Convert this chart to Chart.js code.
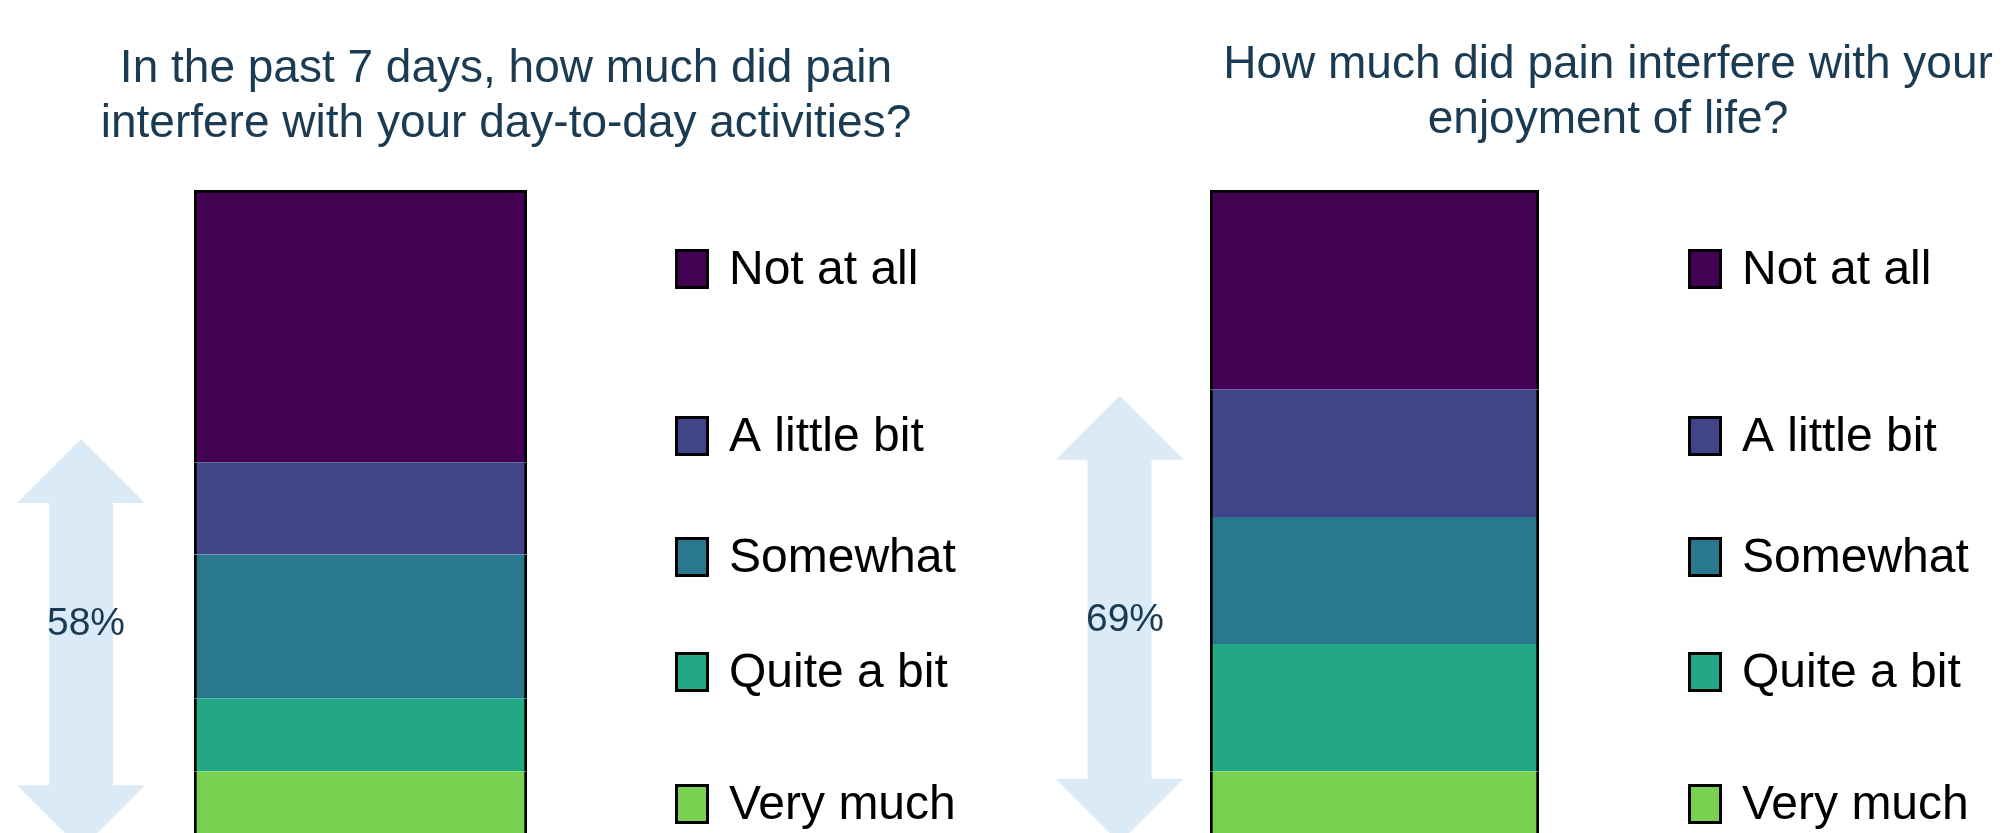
<!DOCTYPE html>
<html>
<head>
<meta charset="utf-8">
<script src="https://cdn.jsdelivr.net/npm/chart.js@4.4.1/dist/chart.umd.min.js"></script>
<style>
  html, body { margin: 0; padding: 0; background: #fff; overflow: hidden; width: 2008px; height: 833px; }
  .panel { position: absolute; top: 0; }
</style>
</head>
<body>
<canvas id="leftChart" class="panel" width="1004" height="870" style="left:0"></canvas>
<canvas id="rightChart" class="panel" width="1004" height="870" style="left:1004px"></canvas>
<script>
"use strict";

// answer categories, top of the bar first
var categories = ['Not at all', 'A little bit', 'Somewhat', 'Quite a bit', 'Very much'];
var activitiesValues = [42.2, 14.3, 22.3, 11.3, 9.9];
var enjoymentValues = [30.9, 19.8, 19.7, 19.7, 9.9];
var colors = ['#440154', '#414487', '#2A788E', '#22A884', '#7AD151'];
var activitiesTitle = ['In the past 7 days, how much did pain', 'interfere with your day-to-day activities?'];
var enjoymentTitle = ['How much did pain interfere with your', 'enjoyment of life?'];

var FONT = '"Liberation Sans", Arial, sans-serif';
var TEXT_COLOR = '#1B3B52';

// titles, side arrow with % label and the legend column
var panelDecor = {
    id: 'panelDecor',
    afterDraw: function (chart, args, opts) {
        var ctx = chart.ctx;
        var yScale = chart.scales.y;
        ctx.save();

        ctx.fillStyle = TEXT_COLOR;
        ctx.font = '46px ' + FONT;
        ctx.textAlign = 'center';
        ctx.textBaseline = 'alphabetic';
        opts.title.forEach(function (line, i) {
            ctx.fillText(line, opts.titleX, opts.titleY + i * 55);
        });

        // double headed arrow
        var cx = opts.arrowX, hw = 64, sw = 32, hh = 64;
        var yt = yScale.getPixelForValue(opts.arrowTop);
        var yb = yScale.getPixelForValue(opts.arrowBottom);
        ctx.fillStyle = '#DAEBF7';
        ctx.beginPath();
        ctx.moveTo(cx, yt);
        ctx.lineTo(cx + hw, yt + hh);
        ctx.lineTo(cx + sw, yt + hh);
        ctx.lineTo(cx + sw, yb - hh);
        ctx.lineTo(cx + hw, yb - hh);
        ctx.lineTo(cx, yb);
        ctx.lineTo(cx - hw, yb - hh);
        ctx.lineTo(cx - sw, yb - hh);
        ctx.lineTo(cx - sw, yt + hh);
        ctx.lineTo(cx - hw, yt + hh);
        ctx.closePath();
        ctx.fill();

        var values = opts.values;
        var share = 0;
        for (var i = 1; i < values.length; i++) share += values[i];
        ctx.fillStyle = TEXT_COLOR;
        ctx.font = '39px ' + FONT;
        ctx.textAlign = 'center';
        ctx.textBaseline = 'middle';
        ctx.fillText(Math.round(share) + '%', opts.labelX, yScale.getPixelForValue(opts.labelValue));

        // legend
        ctx.font = '48px ' + FONT;
        ctx.textAlign = 'left';
        categories.forEach(function (name, i) {
            var y = opts.legendY[i];
            ctx.fillStyle = colors[i];
            ctx.fillRect(opts.legendX, y - 20, 34, 40);
            ctx.strokeStyle = '#000';
            ctx.lineWidth = 3;
            ctx.strokeRect(opts.legendX + 1.5, y - 18.5, 31, 37);
            ctx.fillStyle = '#000';
            ctx.fillText(name, opts.legendX + 54, y + 2);
        });
        ctx.restore();
    }
};

function makeChart(id, values, decor, barLeft, barRight) {
    // stacked bottom-up: last category goes first
    var datasets = [];
    for (var i = categories.length - 1; i >= 0; i--) {
        datasets.push({
            label: categories[i],
            data: [values[i]],
            backgroundColor: colors[i],
            borderColor: '#000',
            borderWidth: { top: i === 0 ? 3 : 0, left: 3, right: 3, bottom: 0 },
            borderSkipped: false,
            barPercentage: 1,
            categoryPercentage: 1
        });
    }
    decor.values = values;
    return new Chart(document.getElementById(id).getContext('2d'), {
        type: 'bar',
        data: { labels: [''], datasets: datasets },
        options: {
            responsive: false,
            animation: false,
            devicePixelRatio: 1,
            layout: { padding: { left: barLeft, right: 1004 - barRight, top: 190, bottom: 35 } },
            scales: {
                x: { display: false, stacked: true },
                y: { display: false, stacked: true, min: 0, max: 100 }
            },
            plugins: {
                legend: { display: false },
                tooltip: { enabled: false },
                panelDecor: decor
            }
        },
        plugins: [panelDecor]
    });
}

var legendY = [269, 436, 557, 672, 804];

makeChart('leftChart', activitiesValues, {
    title: activitiesTitle, titleX: 506, titleY: 82,
    arrowX: 81, arrowTop: 61.4, arrowBottom: -2.2,
    labelX: 86, labelValue: 32.7,
    legendX: 675, legendY: legendY
}, 194, 527);

makeChart('rightChart', enjoymentValues, {
    title: enjoymentTitle, titleX: 604, titleY: 78,
    arrowX: 115.5, arrowTop: 68.1, arrowBottom: -1.2,
    labelX: 121, labelValue: 33.3,
    legendX: 684, legendY: legendY
}, 206, 535);
</script>
</body>
</html>
